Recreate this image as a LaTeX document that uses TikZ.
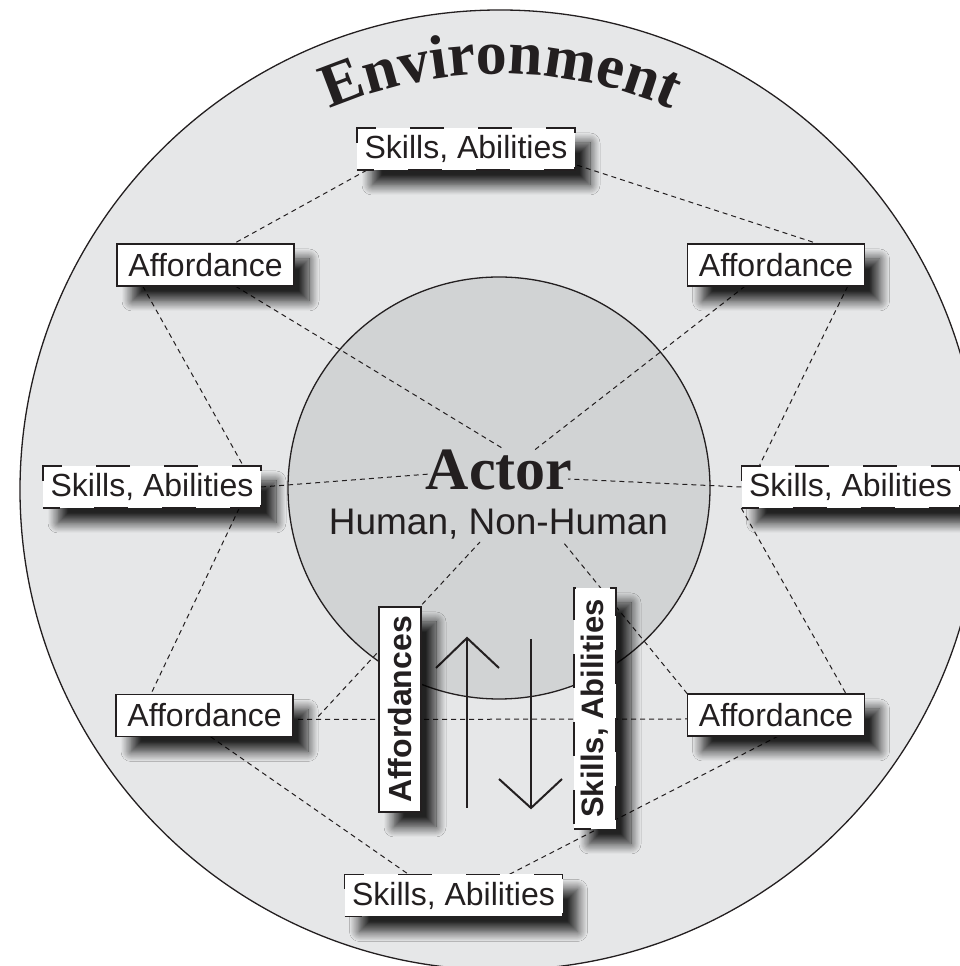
\documentclass[tikz,border=0pt]{standalone}
\usepackage{fontspec}
\setmainfont{Liberation Sans}
\newfontfamily\lserif{Liberation Serif}
\usetikzlibrary{shadows.blur,calc,decorations.text}
\definecolor{envgray}{RGB}{230,231,232}
\definecolor{actgray}{RGB}{209,211,212}
\definecolor{ink}{RGB}{35,31,32}
\tikzset{
  lbl/.style={draw=ink, line width=1.3pt, fill=white, inner sep=0pt,
    minimum height=42pt, text=ink, font=\fontsize{32}{36}\selectfont,
    blur shadow={shadow xshift=15pt, shadow yshift=-15pt, shadow blur radius=10pt,
      shadow blur steps=12, shadow opacity=85}},
  affbox/.style={lbl, minimum width=177pt},
  skillbox/.style={lbl, minimum width=218pt, dash pattern=on 34pt off 34pt, dash phase=17pt},
  vaff/.style={lbl, minimum width=42pt, minimum height=205pt, font=\fontsize{32}{36}\selectfont\bfseries},
  vskill/.style={lbl, minimum width=42pt, minimum height=241pt, font=\fontsize{31}{36}\selectfont\bfseries,
    dash pattern=on 34pt off 34pt, dash phase=17pt},
  link/.style={draw=ink, line width=1pt, dash pattern=on 5pt off 4pt},
  arr/.style={draw=ink, line width=2pt, line join=miter},
}
\begin{document}
\begin{tikzpicture}[x=1pt,y=1pt]
\useasboundingbox (0,0) rectangle (960,966);
\clip (0,0) rectangle (960,966);
% circles
\node[circle, draw=ink, line width=1.3pt, fill=envgray, minimum size=960pt, inner sep=0pt] (env) at (500,476) {};
\node[circle, draw=ink, line width=1.3pt, fill=actgray, minimum size=422pt, inner sep=0pt] (act) at (499,478) {};
% curved title
\path[decorate, decoration={text along path, text align=center,
  text={|\lserif\bfseries\fontsize{62}{68}\selectfont\color{ink}|Environment}}]
  (501,462) ++(118:430) arc[start angle=118, end angle=62, radius=430];
% line ends at the Actor texts
\coordinate (eTL) at (502,518);
\coordinate (eTR) at (532,514);
\coordinate (eL) at (430,492);
\coordinate (eR) at (568,487);
\coordinate (eBL) at (480,424);
\coordinate (eBR) at (563,424);
% arrows
\coordinate (upB) at (467,158);
\coordinate (upT) at (467,328);
\coordinate (dnT) at (531,327);
\coordinate (dnB) at (531,158);
% box placeholders for anchors
\path (466,817) coordinate (csT)
      (205.5,701) coordinate (caTL)
      (776,701) coordinate (caTR)
      (152,479) coordinate (csL)
      (850.5,479) coordinate (csR)
      (204.5,250.5) coordinate (caBL)
      (776,251) coordinate (caBR)
      (453.5,70.5) coordinate (csB);
\begin{scope}[every node/.style={inner sep=0pt, minimum height=42pt}]
\path (csT) node[minimum width=218pt] (sT) {}
      (caTL) node[minimum width=177pt] (aTL) {}
      (caTR) node[minimum width=177pt] (aTR) {}
      (csL) node[minimum width=218pt] (sL) {}
      (csR) node[minimum width=218pt] (sR) {}
      (caBL) node[minimum width=177pt] (aBL) {}
      (caBR) node[minimum width=177pt] (aBR) {}
      (csB) node[minimum width=218pt] (sB) {};
\end{scope}
\coordinate (kBL) at ($(aBL.east)+(25,-1)$);
% dashed connectors
\draw[link] ($(sT.south west)+(10,0)$) -- ($(aTL.north)+(28,0)$);
\draw[link] ($(sT.south east)+(2,5)$) -- ($(aTR.north)+(42,0)$);
\draw[link] ($(aTL.south west)+(26,0)$) -- ($(sL.north east)+(-18,0)$);
\draw[link] ($(aTL.south)+(30,0)$) -- (eTL);
\draw[link] ($(aTR.south east)+(-17,0)$) -- ($(sR.north west)+(18,0)$);
\draw[link] ($(aTR.south)+(-31,0)$) -- (eTR);
\draw[link] ($(sL.south east)+(-22,0)$) -- ($(aBL.north west)+(35,0)$);
\draw[link] (sL.east) -- (eL);
\draw[link] (sR.west) -- (eR);
\draw[link] (sR.south west) -- ($(aBR.north)+(70,0)$);
\draw[link] ($(aBL.south)+(6,0)$) -- ($(sB.north)+(-45,0)$);
\draw[link] ($(sB.north)+(56,0)$) -- ($(aBR.south)+(2,0)$);
\draw[link] ($(aBL.east)+(5,-4)$) -- ($(aBR.west)+(0,-4)$);
\draw[link] (kBL) -- (eBL);
\draw[link] (aBR.north west) -- (eBR);
% arrows
\draw[arr] (upB) -- (upT);
\draw[arr] ($(upT)+(-31,-30)$) -- (upT) -- ($(upT)+(32,-30)$);
\draw[arr] (dnT) -- (dnB);
\draw[arr] ($(dnB)+(-32,29)$) -- (dnB) -- ($(dnB)+(31,29)$);
% actor texts
\node[anchor=base, inner sep=0pt, text=ink, font=\lserif\bfseries\fontsize{60}{66}\selectfont] (actor) at (499,476) {Actor};
\node[anchor=base, inner sep=0pt, text=ink, font=\fontsize{37}{42}\selectfont] (human) at (498.5,431) {Human, Non-Human};
% label boxes
\node[skillbox] (bsT) at (sT) {Skills, Abilities};
\node[affbox] (baTL) at (aTL) {Affordance};
\node[affbox] (baTR) at (aTR) {Affordance};
\node[skillbox] (bsL) at (sL) {Skills, Abilities};
\node[skillbox] (bsR) at (sR) {Skills, Abilities};
\node[affbox] (baBL) at (aBL) {Affordance};
\node[affbox] (baBR) at (aBR) {Affordance};
\node[skillbox] (bsB) at (sB) {Skills, Abilities};
\node[vaff] (vA) at (400,256.5) {\rotatebox{90}{Affordances}};
\node[vskill] (vS) at (595,257.5) {\rotatebox{90}{Skills, Abilities}};
\end{tikzpicture}
\end{document}
